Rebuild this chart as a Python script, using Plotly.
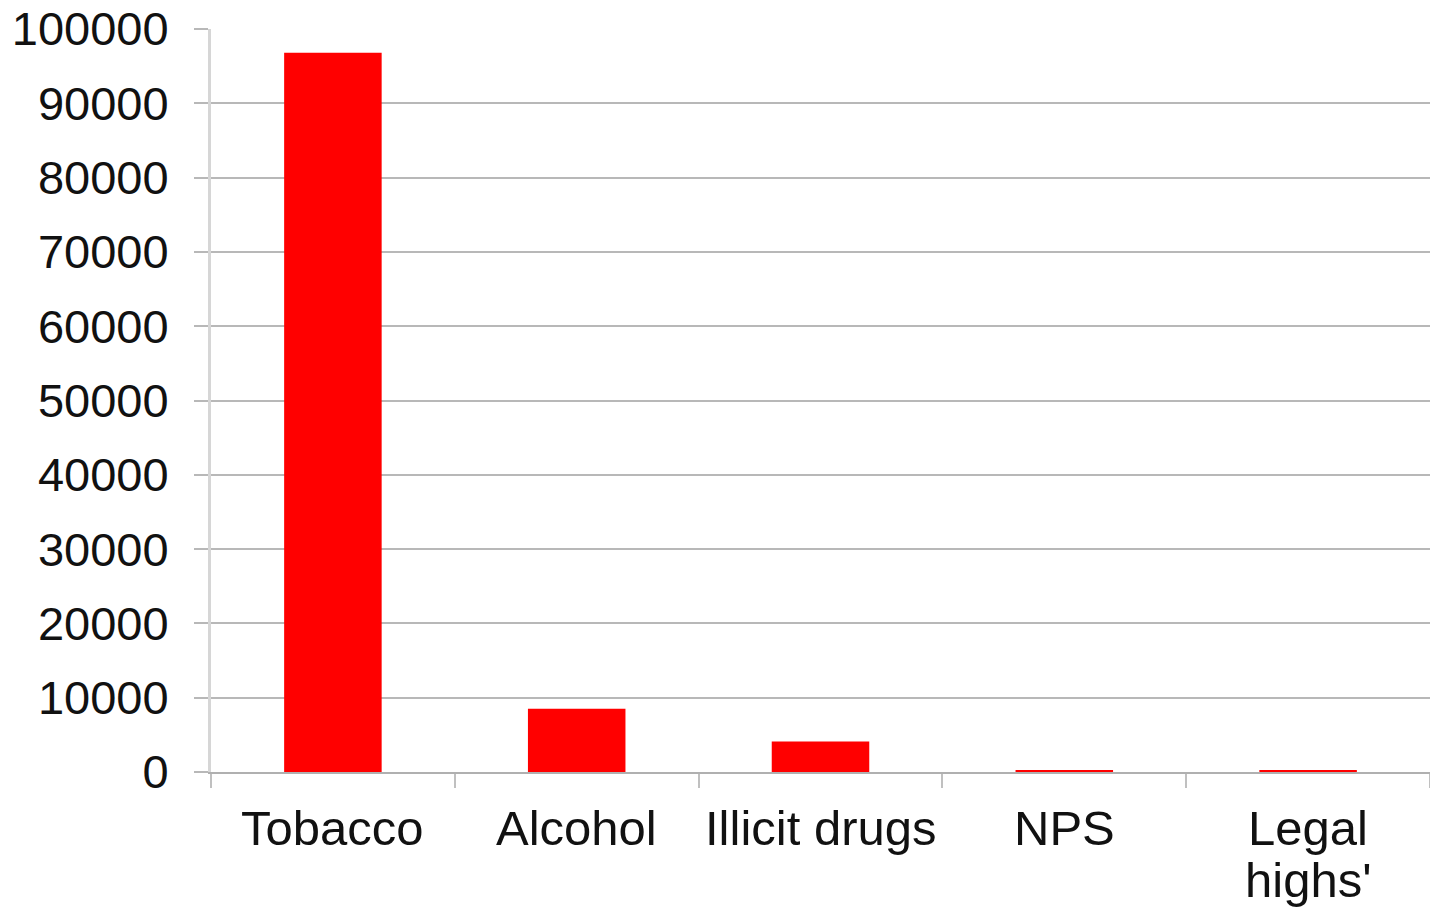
import plotly.graph_objects as go

categories = ["Tobacco", "Alcohol", "Illicit drugs", "NPS", "Legal<br>highs'"]
values = [96800, 8500, 4100, 250, 250]
y_ticks = [0, 10000, 20000, 30000, 40000, 50000, 60000, 70000, 80000, 90000, 100000]

FONT = "Liberation Sans, Arial, sans-serif"
TEXT_COLOR = "#111111"

fig = go.Figure(
    go.Bar(
        x=categories,
        y=values,
        marker=dict(color="#ff0000", line=dict(width=0)),
    )
)

# Category labels: one annotation per text line so the line spacing stays tight
label_top = 27
line_step = 52
annotations = []
for cat in categories:
    for i, line in enumerate(cat.split("<br>")):
        annotations.append(
            dict(
                x=cat,
                y=0,
                xref="x",
                yref="paper",
                yanchor="top",
                xanchor="center",
                yshift=-(label_top + i * line_step),
                text=line,
                showarrow=False,
                font=dict(family=FONT, size=49, color=TEXT_COLOR),
            )
        )

fig.update_layout(
    width=1430,
    height=909,
    margin=dict(l=211, r=0, t=29, b=137),
    paper_bgcolor="white",
    plot_bgcolor="white",
    bargap=0.6,
    showlegend=False,
    font=dict(family=FONT, size=47, color=TEXT_COLOR),
    annotations=annotations,
)

fig.update_xaxes(
    type="category",
    showline=True,
    linecolor="#b0b0b0",
    linewidth=2,
    ticks="outside",
    tickson="boundaries",
    ticklen=14,
    tickwidth=2,
    tickcolor="#c0c0c0",
    showgrid=False,
    showticklabels=False,
)

fig.update_yaxes(
    range=[0, 100000],
    tickvals=y_ticks,
    ticktext=[str(v) for v in y_ticks],
    showgrid=True,
    gridcolor="#b8b8b8",
    gridwidth=1.5,
    zeroline=False,
    showline=True,
    linecolor="#d6d6d6",
    linewidth=3,
    ticks="outside",
    ticklen=14,
    tickwidth=1.5,
    tickcolor="#b8b8b8",
    tickfont=dict(size=47),
    ticklabelstandoff=16,
)

fig.write_html("out.html")
